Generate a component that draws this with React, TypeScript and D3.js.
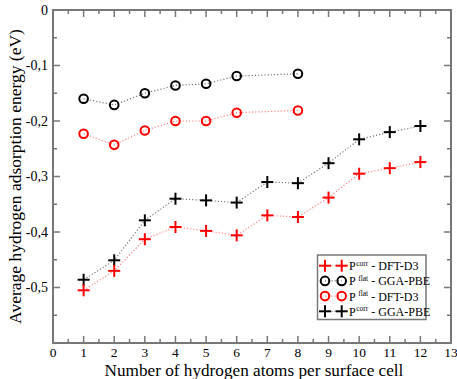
import React from "react";
import * as d3 from "d3";

const xsFlat = [1, 2, 3, 4, 5, 6, 8];
const flatPBE = [-0.160, -0.171, -0.150, -0.136, -0.133, -0.119, -0.115];
const flatD3 = [-0.223, -0.243, -0.217, -0.200, -0.200, -0.185, -0.181];
const xsCorr = [1, 2, 3, 4, 5, 6, 7, 8, 9, 10, 11, 12];
const corrPBE = [-0.486, -0.451, -0.379, -0.340, -0.343, -0.347, -0.310, -0.312, -0.276, -0.233, -0.220, -0.209];
const corrD3 = [-0.505, -0.470, -0.413, -0.391, -0.398, -0.406, -0.370, -0.373, -0.338, -0.295, -0.285, -0.274];
const xTicks = d3.range(0, 14);
const yTicks = [0, -0.1, -0.2, -0.3, -0.4, -0.5];
const yLabels = ["0", "-0,1", "-0,2", "-0,3", "-0,4", "-0,5"];

const legend = [
  { sup: "corr", name: " - DFT-D3", color: "#ff0000", shape: "plus" },
  { sup: "flat", name: " - GGA-PBE", color: "#000000", shape: "circle" },
  { sup: "flat", name: " - DFT-D3", color: "#ff0000", shape: "circle" },
  { sup: "corr", name: " - GGA-PBE", color: "#000000", shape: "plus" },
];

const W = 457, H = 379;
const L = 53, R = 451, T = 10, B = 343;
const font = "Liberation Serif";

function Plus({ x, y, c }: { x: number; y: number; c: string }) {
  return (
    <g stroke={c} strokeWidth={2}>
      <line x1={x - 6} x2={x + 6} y1={y} y2={y} />
      <line x1={x} x2={x} y1={y - 6} y2={y + 6} />
    </g>
  );
}
function Circ({ x, y, c }: { x: number; y: number; c: string }) {
  return <circle cx={x} cy={y} r={4.3} fill="none" stroke={c} strokeWidth={2} />;
}

export default function App() {
  const x = d3.scaleLinear().domain([0, 13]).range([L, R]);
  const y = d3.scaleLinear().domain([-0.6, 0]).range([B, T]);
  const line = (xs: number[], ys: number[]) =>
    d3.line<number>().x((_, i) => x(xs[i])).y((d) => y(d))(ys) || "";
  const xMinor = d3.range(0, 13.01, 0.5);
  const yMinor = d3.range(-0.6, 0.001, 0.05);
  const axisC = "#777";
  const tf = { fontFamily: font };
  const series = [
    { xs: xsCorr, ys: corrPBE, c: "#000", lc: "#777", shape: "plus" },
    { xs: xsCorr, ys: corrD3, c: "#ff0000", lc: "#ff8080", shape: "plus" },
    { xs: xsFlat, ys: flatPBE, c: "#000", lc: "#777", shape: "circle" },
    { xs: xsFlat, ys: flatD3, c: "#ff0000", lc: "#ff8080", shape: "circle" },
  ];
  return (
    <svg width={W} height={H} style={{ position: "absolute", left: 0, top: 0 }}>
      <rect x={0} y={0} width={W} height={H} fill="#fff" />
      <g stroke={axisC} strokeWidth={1.5}>
        {xMinor.map((v, i) => {
          const len = Math.abs(v - Math.round(v)) < 1e-6 ? 7 : 4;
          return (
            <g key={"xt" + i}>
              <line x1={x(v)} x2={x(v)} y1={B} y2={B - len} />
              <line x1={x(v)} x2={x(v)} y1={T} y2={T + len} />
            </g>
          );
        })}
        {yMinor.map((v, i) => {
          const len = Math.abs(v * 10 - Math.round(v * 10)) < 1e-6 ? 7 : 4;
          return (
            <g key={"yt" + i}>
              <line x1={L} x2={L + len} y1={y(v)} y2={y(v)} />
              <line x1={R} x2={R - len} y1={y(v)} y2={y(v)} />
            </g>
          );
        })}
      </g>
      <rect x={L} y={T} width={R - L} height={B - T} fill="none" stroke={axisC} strokeWidth={2} />
      {xTicks.map((v) => (
        <text key={"xl" + v} x={x(v)} y={356.5} textAnchor="middle" fontSize={13.5} style={tf}>
          {v}
        </text>
      ))}
      {yTicks.map((v, i) => (
        <text key={"yl" + i} x={48} y={y(v) + 4.5} textAnchor="end" fontSize={14} style={tf}>
          {yLabels[i]}
        </text>
      ))}
      <text x={(L + R) / 2 + 2} y={375.5} textAnchor="middle" fontSize={17.2} style={tf}>
        Number of hydrogen atoms per surface cell
      </text>
      <text
        transform={`translate(21,${(T + B) / 2}) rotate(-90)`}
        textAnchor="middle"
        fontSize={17.5}
        style={tf}
      >
        Average hydrogen adsorption energy (eV)
      </text>
      {series.map((s, i) => (
        <path key={"l" + i} d={line(s.xs, s.ys)} fill="none" stroke={s.lc} strokeWidth={1.2} strokeDasharray="1.2,2" />
      ))}
      {series.map((s, i) =>
        s.ys.map((v, j) =>
          s.shape === "plus" ? (
            <Plus key={`p${i}-${j}`} x={x(s.xs[j])} y={y(v)} c={s.c} />
          ) : (
            <Circ key={`p${i}-${j}`} x={x(s.xs[j])} y={y(v)} c={s.c} />
          )
        )
      )}
      <rect x={317.5} y={255} width={108.5} height={64.5} fill="#fff" stroke={axisC} strokeWidth={1.5} />
      {legend.map((d, i) => {
        const ly = 265.7 + i * 15.2;
        const lc = d.color === "#000000" ? "#777" : "#ff8080";
        return (
          <g key={"lg" + i}>
            <line x1={325} x2={341.7} y1={ly} y2={ly} stroke={lc} strokeWidth={1.2} strokeDasharray="1.2,2" />
            {d.shape === "plus" ? (
              <>
                <Plus x={325} y={ly} c={d.color} />
                <Plus x={341.7} y={ly} c={d.color} />
              </>
            ) : (
              <>
                <Circ x={325} y={ly} c={d.color} />
                <Circ x={341.7} y={ly} c={d.color} />
              </>
            )}
            <text x={349} y={ly + 4.5} fontSize={12} style={tf}>
              P
              <tspan fontSize={7.5} dy={-4.5} dx={d.sup === "flat" ? 2.5 : 0.5}>{d.sup}</tspan>
              <tspan dy={4.5}>{d.name}</tspan>
            </text>
          </g>
        );
      })}
    </svg>
  );
}
